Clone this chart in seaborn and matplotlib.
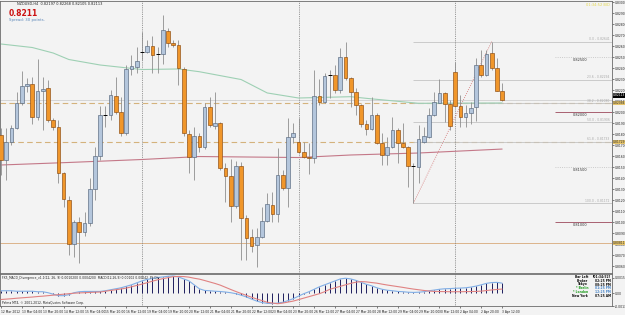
import numpy as np
import matplotlib
matplotlib.use("Agg")
import matplotlib.pyplot as plt
import seaborn as sns

# NZDUSD H4, 12 Mar 2012 12:00 .. 3 Apr 2012 12:00 (97 bars)
opens = [0.81793, 0.81570, 0.81729, 0.81856, 0.82084, 0.82238, 0.82256, 0.81956, 0.82193, 0.82220,
         0.81929, 0.81865, 0.81447, 0.81202, 0.80802, 0.81002, 0.80911, 0.80993, 0.81302, 0.81602,
         0.81975, 0.81975, 0.82147, 0.82002, 0.81811, 0.82397, 0.82415, 0.82547, 0.82550, 0.82599,
         0.82529, 0.82525, 0.82735, 0.82629, 0.82615, 0.82393, 0.81802, 0.81595, 0.81784, 0.81684,
         0.82045, 0.81879, 0.81899, 0.81490, 0.81420, 0.81150, 0.81511, 0.81035, 0.80861, 0.80793,
         0.80868, 0.81014, 0.81156, 0.81072, 0.81429, 0.81308, 0.81772, 0.81732, 0.81641, 0.81595,
         0.81581, 0.82147, 0.82095, 0.82334, 0.82338, 0.82202, 0.82499, 0.82308, 0.82181, 0.82065,
         0.81890, 0.81845, 0.81975, 0.81723, 0.81611, 0.81686, 0.81838, 0.81723, 0.81686, 0.81511,
         0.81505, 0.81732, 0.81777, 0.81975, 0.82086, 0.82177, 0.82075, 0.82363, 0.82056, 0.81954,
         0.81990, 0.82045, 0.82429, 0.82338, 0.82534, 0.82399, 0.82197]
highs = [0.81856, 0.81856, 0.81884, 0.82184, 0.82375, 0.82311, 0.82320, 0.82484, 0.82320, 0.82293,
         0.81947, 0.81929, 0.81456, 0.81238, 0.81020, 0.81047, 0.81093, 0.81402, 0.81684, 0.82056,
         0.82056, 0.82202, 0.82320, 0.82138, 0.82429, 0.82520, 0.82593, 0.82729, 0.82656, 0.82693,
         0.82593, 0.82884, 0.82765, 0.82656, 0.82656, 0.82411, 0.81838, 0.81865, 0.81811, 0.82084,
         0.82138, 0.82184, 0.81911, 0.81538, 0.81575, 0.81556, 0.81547, 0.81065, 0.80938, 0.80947,
         0.81138, 0.81265, 0.81275, 0.81675, 0.81475, 0.81947, 0.81902, 0.81947, 0.81729, 0.81720,
         0.82384, 0.82302, 0.82356, 0.82384, 0.82429, 0.82584, 0.82638, 0.82320, 0.82220, 0.82075,
         0.81929, 0.82138, 0.81993, 0.81811, 0.81775, 0.81956, 0.81856, 0.81902, 0.81693, 0.81538,
         0.81884, 0.81865, 0.82038, 0.82184, 0.82302, 0.82186, 0.82111, 0.82459, 0.82156, 0.82065,
         0.82093, 0.82493, 0.82570, 0.82565, 0.82641, 0.82490, 0.82268]
lows = [0.81429, 0.81384, 0.81702, 0.81847, 0.82065, 0.82184, 0.81893, 0.81929, 0.81838, 0.81911,
        0.81838, 0.81356, 0.81138, 0.80702, 0.80684, 0.80629, 0.80875, 0.80965, 0.81202, 0.81565,
        0.81865, 0.81929, 0.81984, 0.81784, 0.81793, 0.82338, 0.82356, 0.82475, 0.82534, 0.82356,
        0.82356, 0.82438, 0.82593, 0.82593, 0.82247, 0.81784, 0.81447, 0.81384, 0.81638, 0.81665,
        0.81865, 0.81847, 0.81475, 0.81184, 0.81002, 0.81129, 0.80656, 0.80656, 0.80729, 0.80593,
        0.80856, 0.81002, 0.81002, 0.81002, 0.81293, 0.81138, 0.81720, 0.81629, 0.81584, 0.81438,
        0.81538, 0.82065, 0.82084, 0.82129, 0.82175, 0.82175, 0.82293, 0.82047, 0.81975, 0.81865,
        0.81793, 0.81838, 0.81711, 0.81520, 0.81520, 0.81675, 0.81538, 0.81675, 0.81320, 0.81172,
        0.81356, 0.81720, 0.81765, 0.81965, 0.82084, 0.81914, 0.81838, 0.82047, 0.81865, 0.81865,
        0.81893, 0.81920, 0.82320, 0.82329, 0.82384, 0.82193, 0.82105]
closes = [0.81565, 0.81732, 0.81856, 0.82084, 0.82238, 0.82256, 0.81956, 0.82193, 0.82215, 0.81929,
          0.81865, 0.81447, 0.81211, 0.80802, 0.81002, 0.80911, 0.80993, 0.81302, 0.81602, 0.81975,
          0.81975, 0.82156, 0.82002, 0.81811, 0.82393, 0.82420, 0.82465, 0.82547, 0.82602, 0.82523,
          0.82529, 0.82743, 0.82626, 0.82615, 0.82399, 0.81808, 0.81590, 0.81784, 0.81684, 0.82047,
          0.81884, 0.81899, 0.81490, 0.81420, 0.81150, 0.81511, 0.81035, 0.80859, 0.80784, 0.80868,
          0.81014, 0.81165, 0.81072, 0.81429, 0.81308, 0.81772, 0.81814, 0.81641, 0.81595, 0.81581,
          0.82147, 0.82095, 0.82329, 0.82338, 0.82202, 0.82499, 0.82308, 0.82181, 0.82065, 0.81890,
          0.81845, 0.81975, 0.81723, 0.81611, 0.81686, 0.81838, 0.81723, 0.81686, 0.81511, 0.81505,
          0.81754, 0.81784, 0.81975, 0.82095, 0.82177, 0.82075, 0.81875, 0.82056, 0.81959, 0.81990,
          0.82035, 0.82429, 0.82338, 0.82529, 0.82399, 0.82197, 0.82113]

# moving averages, read at some bars
ma_green_idx = [0, 6, 10, 13, 19, 27, 34, 38, 46, 51, 57, 67, 70, 80, 96]
ma_green = [0.82620, 0.82588, 0.82538, 0.82479, 0.82429, 0.82388, 0.82393, 0.82368,
            0.82297, 0.82175, 0.82129, 0.82141, 0.82126, 0.82081, 0.82084]
ma_red_idx = [0, 13, 27, 38, 57, 67, 80, 96]
ma_red = [0.81520, 0.81543, 0.81570, 0.81597, 0.81588, 0.81611, 0.81629, 0.81665]

# MACD(12,26,9) in units of 1e-4
macd_main = [2.5, 2.5, 2.5, 2, 2, 2, 2, 1.5, 1.5, 0.5,
             -1, -2.5, -2.5, -1.5, 0.5, 1.5, 1.8, 1.8, 1.8, 1.8,
             2.5, 3.5, 4.5, 5.5, 7, 8.5, 10.5, 12.5, 14, 15,
             16, 16.5, 17.2, 17.5, 16.5, 14.5, 12.5, 8.5, 4.5, 2.8,
             2.5, 2, 1.7, 1.2, 0.5, -0.5, -2, -3.8, -6, -8,
             -9.5, -10.3, -10.5, -10, -9.2, -7.5, -5.5, -3, -0.5, 1.5,
             4, 6.5, 8.5, 10.5, 12.5, 14.5, 15.2, 14.5, 13, 11,
             9, 7.5, 5.5, 4, 3, 2.5, 1.8, 1.5, 1, 0.8,
             1, 1.5, 2.5, 3.2, 4, 4.5, 4.7, 5, 5.2, 5.5,
             6.2, 7.2, 8.5, 10, 10.8, 11, 10.2]
macd_signal = [-6.4, -6, -5.6, -5.1, -4.7, -4.3, -3.9, -3.4, -3, -2.5,
               -2, -1.5, -1, -0.5, 0, 0.3, 0.5, 0.8, 1, 1.2,
               2, 2.8, 3.5, 4.3, 5.2, 6.5, 7.9, 9.2, 10.7, 12.2,
               13.6, 14.8, 15.8, 16.8, 17, 16.9, 16.3, 15.2, 14.3, 12.9,
               11.4, 9.9, 8.2, 6, 3.8, 1.7, -0.3, -2.2, -4.1, -5.9,
               -7.5, -9.2, -10, -10.7, -10, -9, -8, -6.5, -5, -3.5,
               -2, -0.5, 1.5, 4, 5.5, 7, 8.5, 10, 11.2, 11.8,
               11.5, 10.8, 10.2, 9.2, 8.3, 7.5, 6.7, 5.9, 5, 4.2,
               3.5, 2.8, 2.2, 1.8, 1.7, 1.6, 1.5, 1.5, 1.5, 1.6,
               1.7, 1.8, 2.1, 2.7, 3.3, 3.8, 4.2]

date_labels = ["12 Mar 2012", "13 Mar 04:00", "13 Mar 20:00", "14 Mar 12:00", "15 Mar 04:00",
               "15 Mar 20:00", "16 Mar 12:00", "19 Mar 04:00", "19 Mar 20:00", "20 Mar 12:00",
               "21 Mar 04:00", "21 Mar 20:00", "22 Mar 12:00", "23 Mar 04:00", "23 Mar 20:00",
               "26 Mar 12:00", "27 Mar 04:00", "27 Mar 20:00", "28 Mar 12:00", "29 Mar 04:00",
               "29 Mar 20:00", "30 Mar 12:00", "2 Apr 04:00", "2 Apr 20:00", "3 Apr 12:00"]
week_starts = [27, 57, 87]

# user lines
dashed_levels = [0.82084, 0.81729]
solid_level = 0.80811
round_levels = [0.82500, 0.82000, 0.81500, 0.81000]
fib_ratios = [0.0, 23.6, 38.2, 50.0, 61.8, 100.0]
fib_high, fib_low = 0.82641, 0.81172
fib_from, fib_to = 79, 94

clock_names = ["Bar Left", "Broker", "Tokyo", "* Berlin", "* London", "New York"]
clock_times = ["[01:34:52]", "02:25 PM", "08:25 PM", "01:25 PM", "12:25 PM", "07:25 AM"]


def main():
    sns.set_theme(style="white")
    plt.rcParams['font.family'] = ['DejaVu Sans']

    W, H = 625, 315
    fig = plt.figure(figsize=(W / 100, H / 100), dpi=100)
    fig.patch.set_facecolor('#f3f3f3')
    ax = fig.add_axes([0, (H - 273) / H, 612 / W, 272 / H])
    ax2 = fig.add_axes([0, (H - 306) / H, 612 / W, 32 / H])

    x = np.arange(len(opens))
    o, h, l, c = map(np.array, (opens, highs, lows, closes))
    xl = (-1 / 5.22, 611 / 5.22)
    fs = 2.2

    # свечи
    ax.vlines(x, l, h, color='#8e8e8e', lw=0.6, zorder=3)
    doji = np.abs(c - o) < 0.00008
    bull = c > o
    fc = np.where(bull, '#b4c6dc', '#f0962a')
    ec = np.where(bull, '#56667c', '#8a4a10')
    m = ~doji
    ax.bar(x[m], np.abs(c - o)[m], bottom=np.minimum(o, c)[m], width=0.7,
           color=fc[m], edgecolor=ec[m], linewidth=0.45, zorder=4)
    ax.hlines(o[doji], x[doji] - 0.38, x[doji] + 0.38, color='black', lw=0.7, zorder=4)

    sns.lineplot(x=ma_green_idx, y=ma_green, ax=ax, color='#9ed0b4', lw=0.8, zorder=2)
    sns.lineplot(x=ma_red_idx, y=ma_red, ax=ax, color='#c47888', lw=0.8, zorder=2)

    for lv in dashed_levels:
        ax.axhline(lv, color='#d4b27c', lw=0.8, dashes=(5, 3), zorder=1)
    ax.axhline(solid_level, color='#dcb48a', lw=0.7, zorder=1)
    ax.axhline(c[-1], color='#c8c8c8', lw=0.5, zorder=1)

    # фибо
    rng = fib_high - fib_low
    for r in fib_ratios:
        lv = fib_high - rng * r / 100
        ax.hlines(lv, fib_from, xl[1], color='#c4c4c4', lw=0.6, zorder=1)
        ax.text(116.6, lv + 0.00003, f"{r:.1f} - {lv:.5f}", fontsize=fs, color='#a8a8a8',
                ha='right', va='bottom')
    ax.plot([fib_from, fib_to], [fib_low, fib_high], color='#d06a6a', lw=0.6, ls=':', zorder=2)

    for k, lv in enumerate(round_levels):
        if k % 2 == 0:
            ax.hlines(lv, 106.1, xl[1], color='#bdbdbd', lw=0.6, ls=':')
        else:
            ax.hlines(lv, 106.1, xl[1], color='#a86070', lw=0.7)
        ax.text(109.6, lv - 0.00005, f"{lv:.5f}", fontsize=2.5, color='#303030', ha='left', va='top')

    for ws in week_starts:
        ax.axvline(ws, color='#7a7a7a', lw=0.6, ls=(0, (1, 1.2)), zorder=1)
        ax2.axvline(ws, color='#7a7a7a', lw=0.6, ls=(0, (1, 1.2)), zorder=1)

    ax.set_xlim(*xl)
    ax.set_ylim(0.8302 - 273 / 11000, 0.8302 - 1 / 11000)
    ax.set_facecolor('#f3f3f3')
    ax.yaxis.tick_right()
    ticks = np.arange(0.806, 0.8301, 0.001)
    ax.set_yticks(ticks)
    ax.set_yticklabels([f"{t:.5f}" for t in ticks])
    ax.tick_params(axis='y', right=True, labelsize=fs, length=1.2, width=0.4, pad=0.8,
                   colors='#202020')
    ax.tick_params(axis='x', bottom=False, labelbottom=False)
    ax.set_xlabel('')
    ax.set_ylabel('')

    # метки цен на шкале
    box = dict(boxstyle='square,pad=0.12', lw=0)
    for lv in dashed_levels + [solid_level]:
        ax.text(1.002, lv, f"{lv:.5f}", transform=ax.get_yaxis_transform(), fontsize=fs,
                va='center', ha='left', color='#303030', clip_on=False,
                bbox=dict(box, facecolor='#e6c46a'))
    ax.text(1.002, c[-1] + 0.0004, f"{c[-1]:.5f}", transform=ax.get_yaxis_transform(),
            fontsize=fs, va='center', ha='left', color='white', clip_on=False,
            bbox=dict(box, facecolor='black'))

    ax.text(3, 0.8302 - 4 / 11000,
            f"NZDUSD,H4  {o[-1]:.5f} {h[-1]:.5f} {l[-1]:.5f} {c[-1]:.5f}",
            fontsize=2.5, color='#202020', va='center')
    ax.text(1.5, 0.8302 - 14 / 11000, f"{c[-1]:.4f}", fontsize=5.5, color='#cc1010',
            fontweight='bold', va='center')
    ax.text(1.5, 0.8302 - 20.5 / 11000, "Spread: 30 points.", fontsize=2.8, color='#5a86b8',
            va='center')
    fig.text(610 / W, 1 - 5 / H, "01:34:52 BID", fontsize=2.6, color='#e6d84a', ha='right',
             va='center')

    # MACD
    mm = np.array(macd_main) * 1e-4
    ms = np.array(macd_signal) * 1e-4
    ax2.vlines(x, 0, mm, color='#1e1e5e', lw=0.7, zorder=2)
    sns.lineplot(x=x, y=mm, ax=ax2, color='#80aee6', lw=0.8, zorder=3)
    sns.lineplot(x=x, y=ms, ax=ax2, color='#e08282', lw=0.8, zorder=3)
    ax2.set_xlim(*xl)
    ax2.set_ylim(-0.00125, 0.00195)
    ax2.set_facecolor('#f3f3f3')
    ax2.yaxis.tick_right()
    ax2.set_yticks([0.00155, 0.0, -0.0013])
    ax2.set_yticklabels(["0.001550", "0.00", "-0.001300"])
    ax2.tick_params(axis='y', right=True, labelsize=fs, length=1.2, width=0.4, pad=0.8,
                    colors='#202020')
    ax2.set_xticks(np.arange(0, len(x), 4))
    ax2.set_xticklabels(date_labels)
    ax2.tick_params(axis='x', bottom=True, labelsize=fs, length=1.5, width=0.4, pad=1.5,
                    colors='#202020')
    for lab in ax2.get_xticklabels():
        lab.set_ha('left')
    ax2.set_xlabel('')
    ax2.set_ylabel('')

    ax2.text(0.004, 0.93,
             f"FX5_MACD_Divergence_v1.1(12, 26, 9) {mm[-1]:.7f} {ms[-1]:.7f}  "
             f"MACD(12,26,9) {mm[-1]:.5f} {ms[-1]:.5f}  Pk Div",
             transform=ax2.transAxes, fontsize=fs, color='#202020', va='top')
    ax2.text(0.004, 0.04, "Palma MT4, \u00a9 2001-2012, MetaQuotes Software Corp.",
             transform=ax2.transAxes, fontsize=fs, color='#202020', va='bottom')
    name_colors = ['#101010', '#101010', '#101010', '#1a9a1a', '#1a9a1a', '#101010']
    time_colors = ['#101010', '#101010', '#101010', '#4a86c8', '#4a86c8', '#101010']
    for k in range(len(clock_names)):
        yy = 1 - (276.7 + k * 3.9 - 274) / 32
        ax2.text(588 / 612, yy, clock_names[k], transform=ax2.transAxes, fontsize=2.2,
                 color=name_colors[k], ha='right', va='center', fontweight='bold')
        ax2.text(611 / 612, yy, clock_times[k], transform=ax2.transAxes, fontsize=2.2,
                 color=time_colors[k], ha='right', va='center', fontweight='bold')

    for a in (ax, ax2):
        for s in a.spines.values():
            s.set_color('#6a6a6a')
            s.set_linewidth(0.6)

    fig.savefig('out.png', dpi=100, facecolor=fig.get_facecolor())


if __name__ == '__main__':
    main()
